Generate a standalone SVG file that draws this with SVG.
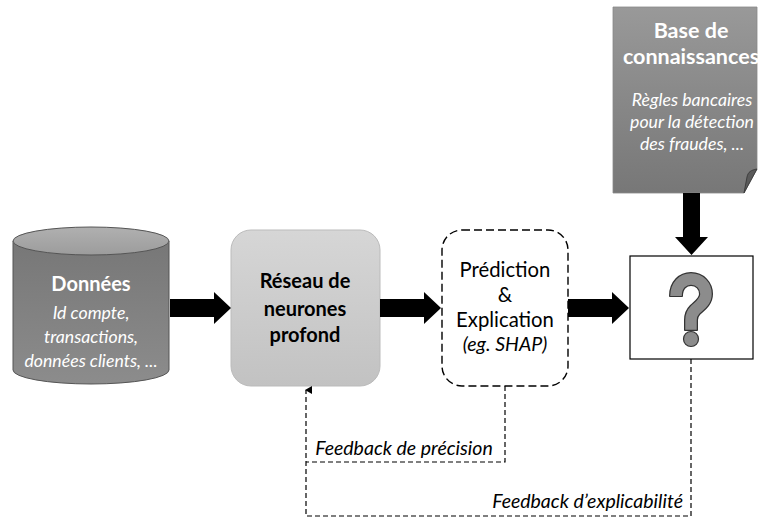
<svg xmlns="http://www.w3.org/2000/svg" width="759" height="517" viewBox="0 0 759 517">
  <defs>
    <linearGradient id="cylBody" x1="0" y1="0" x2="0" y2="1">
      <stop offset="0" stop-color="#777"/>
      <stop offset="1" stop-color="#8c8c8c"/>
    </linearGradient>
    <linearGradient id="cylTop" x1="0" y1="0" x2="0" y2="1">
      <stop offset="0" stop-color="#b0b0b0"/>
      <stop offset="1" stop-color="#9c9c9c"/>
    </linearGradient>
    <linearGradient id="netFill" x1="0" y1="0" x2="0" y2="1">
      <stop offset="0" stop-color="#d6d6d6"/>
      <stop offset="1" stop-color="#c2c2c2"/>
    </linearGradient>
    <linearGradient id="docFill" x1="0" y1="0" x2="0" y2="1">
      <stop offset="0" stop-color="#999"/>
      <stop offset="1" stop-color="#777"/>
    </linearGradient>
    <marker id="smallHead" viewBox="0 0 8 8" refX="4" refY="1" markerWidth="8" markerHeight="8" markerUnits="userSpaceOnUse" orient="auto-start-reverse">
      <path d="M0,7 L4,0 L8,7 Z" fill="#000"/>
    </marker>
    <style>
      text { font-family: Lato, "Liberation Sans", sans-serif; text-anchor: middle; }
      .white { fill: #fff; }
      .title { font-size: 20px; font-weight: bold; }
      .kb { font-size: 21.5px; font-weight: bold; }
      .sub { font-size: 17.7px; font-style: italic; }
      .plain { font-size: 20.3px; fill: #000; }
      .eg { font-size: 19.5px; font-style: italic; fill: #000; }
      .fb { font-size: 19.5px; font-style: italic; fill: #000; }
      .block { fill: #000; }
      .dash { fill: none; stroke: #000; stroke-width: 1.2; stroke-dasharray: 5 3; }
    </style>
  </defs>

  <!-- data store -->
  <g id="donnees">
    <path d="M13,241 V370 A78,14 0 0 0 169,370 V241 Z" fill="url(#cylBody)" stroke="#555" stroke-width="1"/>
    <ellipse cx="91" cy="241" rx="78" ry="14" fill="url(#cylTop)" stroke="#555" stroke-width="1"/>
    <text x="91" y="291" class="title white">Données</text>
    <text x="91" y="319" class="sub white">Id compte,</text>
    <text x="91" y="343" class="sub white">transactions,</text>
    <text x="91" y="367" class="sub white">données clients, ...</text>
  </g>

  <!-- neural network -->
  <g id="reseau">
    <rect x="231" y="230" width="149" height="156" rx="20" ry="20" fill="url(#netFill)" stroke="#bbb" stroke-width="1"/>
    <text x="305" y="288" class="title">Réseau de</text>
    <text x="305" y="316" class="title">neurones</text>
    <text x="305" y="342" class="title">profond</text>
  </g>

  <!-- prediction & explanation -->
  <g id="prediction">
    <rect x="442" y="230" width="126" height="156" rx="20" ry="20" fill="#fff" stroke="#000" stroke-width="1.4" stroke-dasharray="8 4"/>
    <text x="505" y="277" class="plain">Prédiction</text>
    <text x="505" y="302" class="plain">&amp;</text>
    <text x="505" y="327" class="plain">Explication</text>
    <text x="505" y="351" class="eg">(eg. SHAP)</text>
  </g>

  <!-- knowledge base -->
  <g id="base">
    <path d="M613,7 H757 V169 L744,193 H613 Z" fill="url(#docFill)" stroke="#888" stroke-width="0.8"/>
    <path d="M757,169 C751,170 748,172 747,177 L744,193 Z" fill="#5a5a5a" stroke="#333" stroke-width="0.8"/>
    <text x="691" y="38" class="kb white">Base de</text>
    <text x="691" y="64" class="kb white">connaissances</text>
    <text x="692" y="106" class="sub white">Règles bancaires</text>
    <text x="692" y="128" class="sub white">pour la détection</text>
    <text x="692" y="150" class="sub white">des fraudes, ...</text>
  </g>

  <!-- unknown outcome -->
  <g id="inconnu">
    <rect x="630" y="256" width="123" height="103" fill="#fff" stroke="#000" stroke-width="1.2"/>
    <path d="M676,296 C676,285 683,279 691,279 C700,279 706,286 706,294 C706,302 699,306 695,310 C692,313 691,316 691,320 L691,330" fill="none" stroke="#333" stroke-width="14"/>
    <path d="M676,296 C676,285 683,279 691,279 C700,279 706,286 706,294 C706,302 699,306 695,310 C692,313 691,316 691,320 L691,330" fill="none" stroke="#8c8c8c" stroke-width="11.5"/>
    <path d="M669.2,296.5 L682.8,296.5 M684.2,330.3 L697.8,330.3" stroke="#333" stroke-width="1.2"/>
    <circle cx="691" cy="339" r="7.5" fill="#8c8c8c" stroke="#333" stroke-width="1.2"/>
  </g>

  <!-- connectors -->
  <g id="connecteurs">
    <polygon class="block" points="170,299 214,299 214,292 231,308 214,324 214,317 170,317"/>
    <polygon class="block" points="380,299 424,299 424,292 441,308 424,324 424,317 380,317"/>
    <polygon class="block" points="568,299 612,299 612,292 629,308 612,324 612,317 568,317"/>
    <polygon class="block" points="683,193 700,193 700,237 708,237 691.5,255 675,237 683,237"/>
    <path class="dash" d="M505,386 V462 H306"/>
    <path class="dash" d="M691,359 V516 H306 V390" marker-end="url(#smallHead)"/>
    <text x="404" y="455" class="fb">Feedback de précision</text>
    <text x="683" y="508" class="fb" style="text-anchor:end">Feedback d’explicabilité</text>
  </g>
</svg>
